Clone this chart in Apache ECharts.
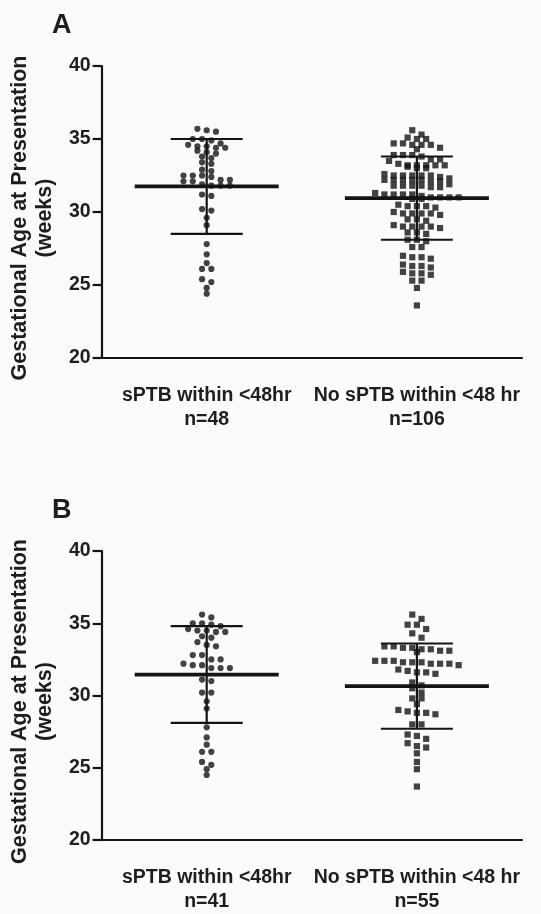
<!DOCTYPE html>
<html><head><meta charset="utf-8">
<script src="https://cdn.jsdelivr.net/npm/echarts@6/dist/echarts.min.js"></script>
<style>html,body{margin:0;padding:0;background:#fafbfc}#c{width:541px;height:914px}</style>
</head><body><div id="c"></div>
<script>
// ---- data ----
const panelLabels = ['A', 'B'];
const categoriesA = ['sPTB within <48hr\nn=48', 'No sPTB within <48 hr\nn=106'];
const categoriesB = ['sPTB within <48hr\nn=41', 'No sPTB within <48 hr\nn=55'];
const yTicks = [20, 25, 30, 35, 40];
const yAxisName = 'Gestational Age at Presentation\n(weeks)';

const aSptb = [35.7, 35.6, 35.5, 35.0, 35.0, 34.9, 34.7, 34.4, 34.4, 34.5, 34.5, 34.6,
  34.0, 34.1, 34.2, 33.8, 33.7, 33.3, 33.4, 32.8, 32.9, 32.5, 32.5, 32.5, 32.4,
  32.1, 32.2, 32.2, 32.1, 31.8, 31.9, 31.8, 31.8, 31.1, 31.2, 30.2, 30.1, 29.6, 29.1,
  27.8, 27.1, 26.5, 26.1, 26.1, 25.4, 25.2, 24.8, 24.4];
const aNoSptb = [35.6, 35.3, 35.1, 35.0, 35.0, 34.7, 34.6, 34.6, 34.6, 34.7, 34.4, 34.3,
  33.9, 33.9, 33.9, 33.8, 33.6, 33.6, 33.5, 33.2, 33.2, 33.2, 33.1, 33.2, 33.3, 33.2,
  33.0, 33.0, 32.5, 32.5, 32.6, 32.5, 32.5, 32.4, 32.5, 32.2, 32.2, 32.1, 32.2, 32.3,
  32.2, 32.2, 32.1, 31.8, 31.8, 31.7, 31.8, 31.9, 31.8, 31.7, 31.2, 31.2, 31.3, 31.2,
  31.1, 31.2, 31.0, 31.0, 30.9, 31.0, 31.0, 30.9, 30.4, 30.4, 30.5, 30.4, 30.3, 29.9,
  29.9, 30.0, 29.9, 29.8, 29.9, 29.5, 29.5, 29.4, 29.0, 29.0, 29.1, 28.9, 29.0, 29.0,
  28.6, 28.6, 28.5, 28.1, 28.1, 28.0, 27.6, 27.6, 26.9, 26.9, 27.0, 26.8, 26.3, 26.3,
  26.2, 26.4, 25.8, 25.8, 25.7, 25.9, 25.3, 25.3, 24.8, 23.6];
const bSptb = [35.6, 35.4, 35.0, 35.0, 34.9, 34.8, 34.4, 34.4, 34.5, 34.5, 34.6, 34.0,
  34.1, 33.7, 33.4, 33.5, 32.8, 32.8, 32.5, 32.5, 32.1, 32.1, 32.2, 31.9, 31.9, 31.9,
  31.0, 31.1, 30.2, 30.2, 29.6, 29.1, 27.8, 27.1, 26.6, 26.1, 26.1, 25.4, 25.2, 24.9, 24.5];
const bNoSptb = [35.6, 35.3, 34.9, 34.9, 34.6, 34.3, 34.0, 33.4, 33.3, 33.2, 33.1, 33.3,
  33.4, 33.2, 33.0, 33.1, 32.4, 32.3, 32.3, 32.2, 32.4, 32.2, 32.1, 32.2, 32.3, 32.4,
  31.7, 31.6, 31.5, 31.8, 31.6, 30.9, 30.7, 30.5, 30.2, 29.8, 29.8, 29.4, 29.0, 28.9,
  28.8, 28.8, 28.7, 28.0, 28.0, 27.2, 27.0, 27.3, 26.4, 26.7, 26.5, 26.0, 25.4, 24.9, 23.7];
const meansA = [31.75, 30.95];
const sdsA = [3.25, 2.85];
const meansB = [31.45, 30.65];
const sdsB = [3.35, 2.95];

// ---- layout ----
const INK = '#141414';
const gridsPx = [{ top: 66, height: 292 }, { top: 551, height: 295 }];
const GRID_LEFT = 96, GRID_RIGHT = 19;
const plotW = 541 - GRID_LEFT - GRID_RIGHT;
const bandPx = plotW / 2;
const SYM = 6.2, STEP = 9.4, ROW_PX = 5.6;

// Prism-like row layout: values within one row height share a row, spread symmetrically
function rowOffsets(values, pxPerUnit) {
  const order = values.map((v, i) => i).sort((a, b) => values[b] - values[a]);
  const off = new Array(values.length);
  const rowH = ROW_PX / pxPerUnit;
  let row = [], start = null;
  const flush = () => {
    const n = row.length;
    row.forEach((idx, k) => { off[idx] = (k - (n - 1) / 2) * STEP; });
    row = [];
  };
  for (const i of order) {
    if (start === null || start - values[i] >= rowH) { flush(); start = values[i]; }
    row.push(i);
  }
  flush();
  return off;
}

function pts(values, cat, g) {
  const ppu = gridsPx[g].height / (yTicks[yTicks.length - 1] - yTicks[0]);
  const off = rowOffsets(values, ppu);
  return values.map((v, i) => [cat + 0.5 + off[i] / bandPx, v]);
}

const labelStyle = { fontFamily: 'Liberation Sans, Arial, sans-serif', fontWeight: 'bold', color: '#1e1e1e' };
function catAxis(g, cats) {
  return { type: 'category', gridIndex: g, data: cats, boundaryGap: true,
    axisLine: { lineStyle: { color: INK, width: 2.2 } },
    axisTick: { alignWithLabel: true, length: 9, lineStyle: { color: INK, width: 2.2 } },
    axisLabel: Object.assign({ fontSize: 19.5, lineHeight: 24, margin: 26, interval: 0 }, labelStyle) };
}
function valX(g) { return { type: 'value', gridIndex: g, min: 0, max: 2, show: false }; }
function yAx(g) {
  return { type: 'value', gridIndex: g, min: yTicks[0], max: yTicks[yTicks.length - 1], interval: 5,
    axisLine: { show: true, lineStyle: { color: INK, width: 2.2 } },
    axisTick: { show: true, length: 9, lineStyle: { color: INK, width: 2.2 } },
    splitLine: { show: false },
    axisLabel: Object.assign({ fontSize: 19.5, margin: 11 }, labelStyle),
    name: yAxisName, nameLocation: 'middle', nameRotate: 90, nameGap: 42,
    nameTextStyle: Object.assign({ fontSize: 21.5, lineHeight: 25, padding: [0, 12, 0, 0] }, labelStyle) };
}

function errSeries(g, means, sds) {
  return { type: 'custom', xAxisIndex: g * 2 + 1, yAxisIndex: g, z: 5,
    data: means.map((m, i) => [i + 0.5, m, sds[i]]),
    renderItem(params, api) {
      const cx = api.value(0), m = api.value(1), s = api.value(2);
      const pm = api.coord([cx, m]), pt = api.coord([cx, m + s]), pb = api.coord([cx, m - s]);
      const st = { stroke: INK, lineWidth: 2.2 };
      return { type: 'group', children: [
        { type: 'line', shape: { x1: pt[0], y1: pt[1], x2: pb[0], y2: pb[1] }, style: st },
        { type: 'line', shape: { x1: pt[0] - 36, y1: pt[1], x2: pt[0] + 36, y2: pt[1] }, style: st },
        { type: 'line', shape: { x1: pb[0] - 36, y1: pb[1], x2: pb[0] + 36, y2: pb[1] }, style: st },
        { type: 'line', shape: { x1: pm[0] - 72, y1: pm[1], x2: pm[0] + 72, y2: pm[1] }, style: { stroke: INK, lineWidth: 3.8 } }
      ] };
    } };
}
function dots(g, values, cat, symbol) {
  return { type: 'scatter', xAxisIndex: g * 2 + 1, yAxisIndex: g, symbol, symbolSize: SYM,
    itemStyle: { color: INK }, z: 3, data: pts(values, cat, g) };
}

const chart = echarts.init(document.getElementById('c'), null, { renderer: 'canvas' });
chart.setOption({
  backgroundColor: '#fafbfc',
  animation: false,
  title: [
    { text: panelLabels[0], left: 47, top: 7, textStyle: Object.assign({ fontSize: 27 }, labelStyle) },
    { text: panelLabels[1], left: 47, top: 492, textStyle: Object.assign({ fontSize: 27 }, labelStyle) }
  ],
  grid: gridsPx.map(p => ({ left: GRID_LEFT, right: GRID_RIGHT, top: p.top, height: p.height })),
  xAxis: [catAxis(0, categoriesA), valX(0), catAxis(1, categoriesB), valX(1)],
  yAxis: [yAx(0), yAx(1)],
  series: [
    dots(0, aSptb, 0, 'circle'), dots(0, aNoSptb, 1, 'rect'),
    dots(1, bSptb, 0, 'circle'), dots(1, bNoSptb, 1, 'rect'),
    errSeries(0, meansA, sdsA), errSeries(1, meansB, sdsB)
  ]
});
</script></body></html>
